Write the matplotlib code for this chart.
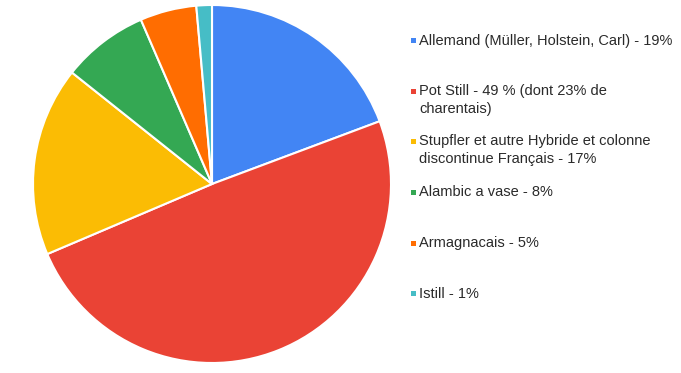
import matplotlib
matplotlib.use("Agg")
import matplotlib.pyplot as plt
from matplotlib.patches import Rectangle

labels = [
    "Allemand (Müller, Holstein, Carl) - 19%",
    "Pot Still - 49 % (dont 23% de\ncharentais)",
    "Stupfler et autre Hybride et colonne\ndiscontinue Français - 17%",
    "Alambic a vase - 8%",
    "Armagnacais - 5%",
    "Istill - 1%",
]
values = [19.3, 49.3, 17.1, 7.8, 5.1, 1.4]
colors = ["#4285F4", "#EA4335", "#FBBC04", "#34A853", "#FF6D01", "#46BDC6"]

W, H = 681, 373
fig = plt.figure(figsize=(W / 100, H / 100), dpi=100)
fig.patch.set_facecolor("white")

cx, cy, r = 212, 184, 179
ax = fig.add_axes([(cx - r) / W, (H - cy - r) / H, 2 * r / W, 2 * r / H])
ax.pie(values, colors=colors, startangle=90, counterclock=False,
       wedgeprops=dict(edgecolor="white", linewidth=1.5))
ax.set_aspect("equal")
ax.set_xlim(-1, 1)
ax.set_ylim(-1, 1)
ax.axis("off")

# legend
row_y = [40, 91, 141, 192, 243, 293]
sq = 5
for lab, col, y in zip(labels, colors, row_y):
    fig.patches.append(Rectangle((411 / W, (H - y - sq / 2) / H), sq / W, sq / H,
                                 transform=fig.transFigure, facecolor=col,
                                 edgecolor="none"))
    fig.text(419 / W, (H - y + 6.5) / H, lab, fontsize=10.5, family="Liberation Sans",
             color="#2a2a2a", va="top", ha="left", linespacing=1.32,
             transform=fig.transFigure)

fig.savefig("out.png", dpi=100, facecolor="white")
